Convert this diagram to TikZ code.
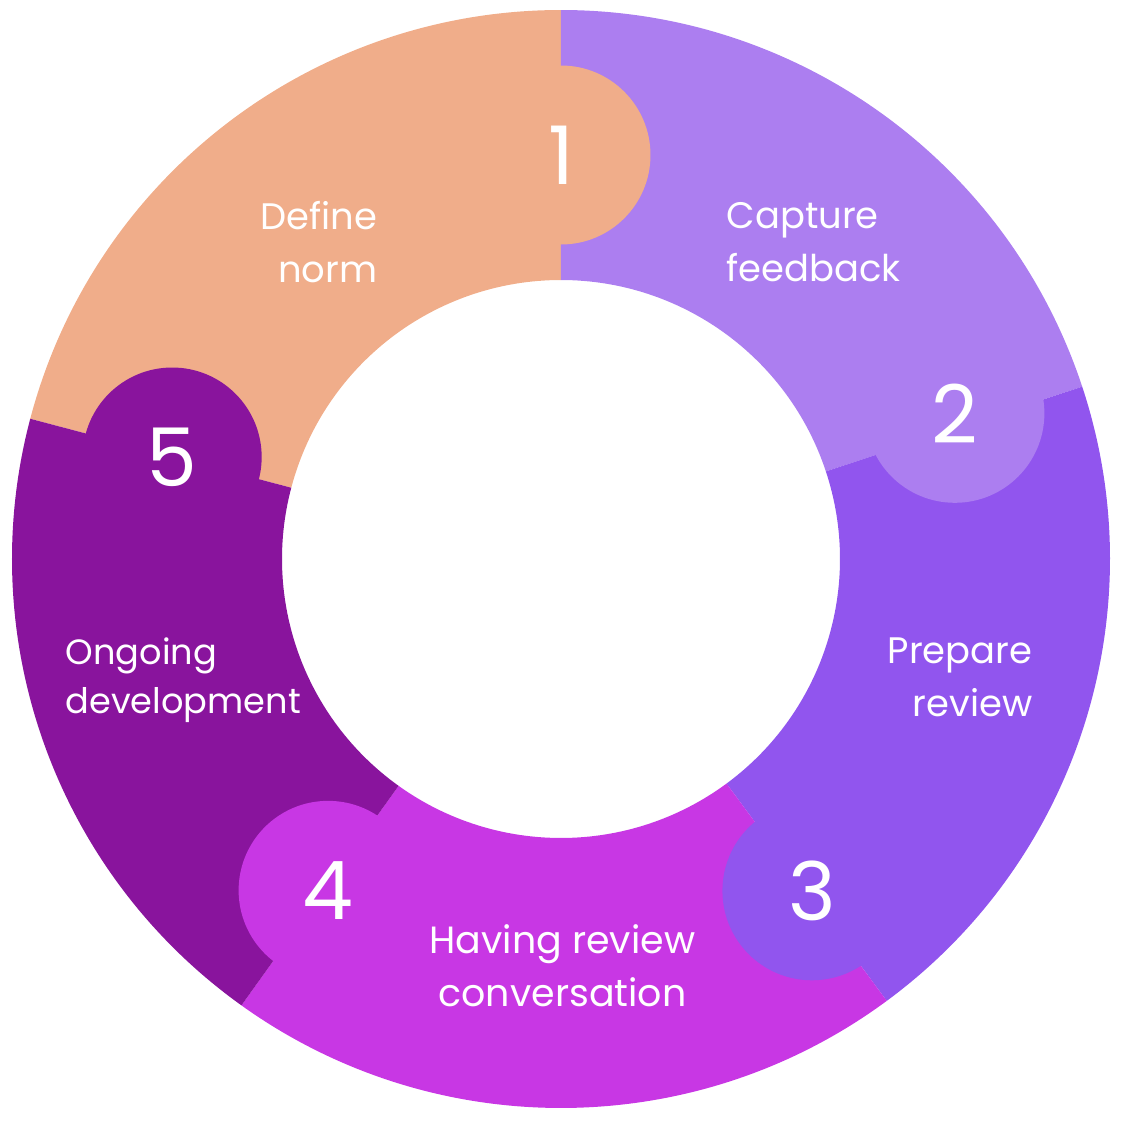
\documentclass[tikz,border=0pt]{standalone}
\usepackage{fontspec}
\setmainfont{Poppins}
\definecolor{segone}{HTML}{F0AD8A}
\definecolor{segtwo}{HTML}{AC7EF0}
\definecolor{segthree}{HTML}{9155EE}
\definecolor{segfour}{HTML}{C837E4}
\definecolor{segfive}{HTML}{89149D}
\newcommand{\ringout}{5.49}
\newcommand{\ringin}{2.79}
\begin{document}
\begin{tikzpicture}[
    knob/.style={circle, minimum size=1.79cm, inner sep=0pt, text=white,
      font=\fontsize{23}{23}\selectfont},
    txt/.style={text=white, inner sep=0pt, font=\fontsize{10.5}{15}\selectfont}
  ]
  \useasboundingbox (-5.61,-5.66) rectangle (5.64,5.59);
  % ring parts, clockwise from the top left
  \foreach \a/\b/\c in {165.2/90/segone, 90/18.3/segtwo, 18.3/-53.6/segthree,
      -53.6/-125.6/segfour, -125.6/-194.8/segfive}
    \fill[\c] (\a:\ringout) arc[start angle=\a, end angle=\b, radius=\ringout]
      -- (\b:\ringin) arc[start angle=\b, end angle=\a, radius=\ringin] -- cycle;
  % knobs with the step numbers
  \node[knob, fill=segone] (k1) at (90:4.04) {1};
  \node[knob, fill=segtwo] (k2) at (20.3:4.20) {2};
  \node[knob, fill=segthree] (k3) at (-52.9:4.16) {3};
  \node[knob, fill=segfour] (k4) at (-125.1:4.05) {4};
  \node[knob, fill=segfive] (k5) at (165.3:4.02) {5};
  % step texts
  \node[txt, anchor=east, align=right] (define) at (-1.83,3.17) {Define\\norm};
  \node[txt, anchor=west, align=left] (capture) at (1.65,3.17) {Capture\\feedback};
  \node[txt, anchor=east, align=right] (prepare) at (4.72,-1.18) {Prepare\\review};
  \node[txt, align=center, font=\fontsize{10.8}{15}\selectfont] (having)
    at (0.015,-4.07) {Having review\\conversation};
  \node[txt, anchor=west, align=left, font=\fontsize{10}{14}\selectfont] (ongoing)
    at (-4.96,-1.21) {Ongoing\\development};
\end{tikzpicture}
\end{document}
